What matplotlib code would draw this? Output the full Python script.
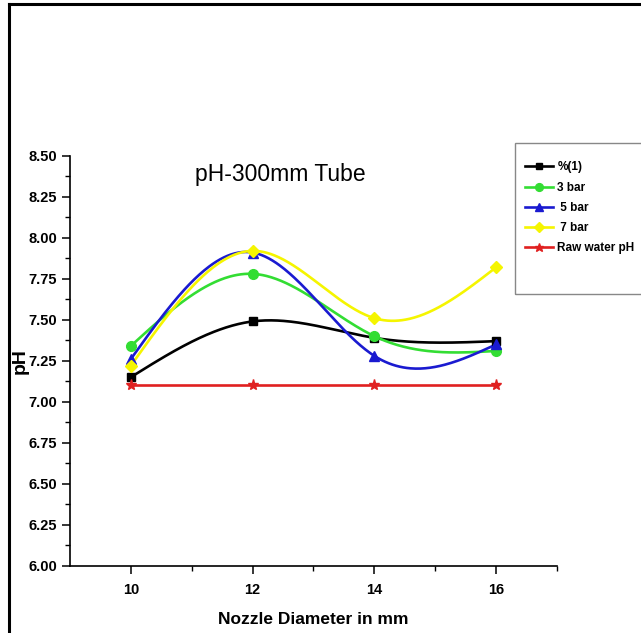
import matplotlib
matplotlib.use("Agg")
import matplotlib.pyplot as plt
import numpy as np
from matplotlib.lines import Line2D
from matplotlib.patches import Rectangle
from matplotlib import font_manager

nozzle_mm = [10, 12, 14, 16]
ph_pct1 = [7.15, 7.49, 7.39, 7.37]
ph_3bar = [7.34, 7.78, 7.40, 7.31]
ph_5bar = [7.26, 7.91, 7.28, 7.35]
ph_7bar = [7.22, 7.92, 7.51, 7.82]
ph_raw = [7.10, 7.10, 7.10, 7.10]

series_labels = ["%(1)", "3 bar", " 5 bar", " 7 bar", "Raw water pH"]
y_ticks = [6.00, 6.25, 6.50, 6.75, 7.00, 7.25, 7.50, 7.75, 8.00, 8.25, 8.50]
x_ticks = [10, 12, 14, 16]

names = {f.name for f in font_manager.fontManager.ttflist}
narrow = "Liberation Sans Narrow" if "Liberation Sans Narrow" in names else "Liberation Sans"


def natural_spline(x, y, xs):
    # natural cubic spline, only used to draw the smooth connecting line
    x = np.asarray(x, float)
    y = np.asarray(y, float)
    n = len(x)
    h = np.diff(x)
    A = np.zeros((n, n))
    b = np.zeros(n)
    A[0, 0] = 1
    A[-1, -1] = 1
    for i in range(1, n - 1):
        A[i, i - 1] = h[i - 1]
        A[i, i] = 2 * (h[i - 1] + h[i])
        A[i, i + 1] = h[i]
        b[i] = 6 * ((y[i + 1] - y[i]) / h[i] - (y[i] - y[i - 1]) / h[i - 1])
    M = np.linalg.solve(A, b)
    out = np.empty_like(xs)
    for k, xv in enumerate(xs):
        i = min(max(np.searchsorted(x, xv) - 1, 0), n - 2)
        t0 = x[i + 1] - xv
        t1 = xv - x[i]
        out[k] = (M[i] * t0 ** 3 + M[i + 1] * t1 ** 3) / (6 * h[i]) \
            + (y[i] / h[i] - M[i] * h[i] / 6) * t0 \
            + (y[i + 1] / h[i] - M[i + 1] * h[i] / 6) * t1
    return out


fig = plt.figure(figsize=(6.41, 6.33), dpi=100)
ax = fig.add_axes([0.109, 0.106, 0.760, 0.648])

styles = [
    (ph_pct1, "#000000", "s", 6),
    (ph_3bar, "#33dd33", "o", 7),
    (ph_5bar, "#1a1ad0", "^", 7),
    (ph_7bar, "#f5f500", "D", 6),
    (ph_raw, "#e02020", "*", 8),
]

xs = np.linspace(nozzle_mm[0], nozzle_mm[-1], 300)
handles = []
for (vals, color, marker, ms), label in zip(styles, series_labels):
    ax.plot(xs, natural_spline(nozzle_mm, vals, xs), color=color, lw=1.9, zorder=2)
    ax.plot(nozzle_mm, vals, linestyle="none", marker=marker, ms=ms, color=color,
            mec=color, zorder=3)
    handles.append(Line2D([], [], color=color, lw=1.9, marker=marker, ms=ms * 0.8,
                          label=label))

ax.set_xlim(9, 17)
ax.set_ylim(6, 8.5)
ax.set_xticks(x_ticks)
ax.set_xticks([11, 13, 15, 17], minor=True)
ax.set_yticks(y_ticks)
ax.set_yticks(np.arange(6.125, 8.5, 0.25), minor=True)
ax.set_yticklabels(["%.2f" % v for v in y_ticks])
ax.spines["top"].set_visible(False)
ax.spines["right"].set_visible(False)
for s in ("left", "bottom"):
    ax.spines[s].set_linewidth(1.2)
ax.tick_params(which="major", direction="out", length=6, width=1.1, labelsize=10.5, pad=3)
ax.tick_params(axis="x", which="major", pad=6)
ax.tick_params(which="minor", direction="out", length=3.5, width=1.0)
for lab in ax.get_xticklabels() + ax.get_yticklabels():
    lab.set_fontweight("bold")
    lab.set_family(narrow)

ax.set_xlabel("Nozzle Diameter in mm", fontsize=12.5, fontweight="bold", family=narrow, labelpad=11)
ax.set_ylabel("pH", fontsize=14, fontweight="bold", family="Liberation Sans", labelpad=0)

ax.text(0.431, 0.954, "pH-300mm Tube", transform=ax.transAxes, fontsize=16.5,
        family="Liberation Sans", ha="center", va="center")

# legend box (runs off the right edge, like the original)
fig.patches.append(Rectangle((0.8034, 0.5355), 0.25, 0.2385, transform=fig.transFigure,
                             fill=False, edgecolor="#888888", lw=1.0))
leg = fig.legend(handles=handles, loc="upper left", bbox_to_anchor=(0.819, 0.745),
                 frameon=False, prop={"family": narrow, "weight": "bold", "size": 8.5},
                 handlelength=2.35, handletextpad=0.4, labelspacing=0.70, borderpad=0,
                 borderaxespad=0)

# page border: top and left edges
fig.add_artist(Line2D([0.0148, 0.0148], [0.0, 0.9937], transform=fig.transFigure,
                      color="black", lw=2.2))
fig.add_artist(Line2D([0.0148, 1.0], [0.9937, 0.9937], transform=fig.transFigure,
                      color="black", lw=2.2))

fig.savefig("out.png", dpi=100)
